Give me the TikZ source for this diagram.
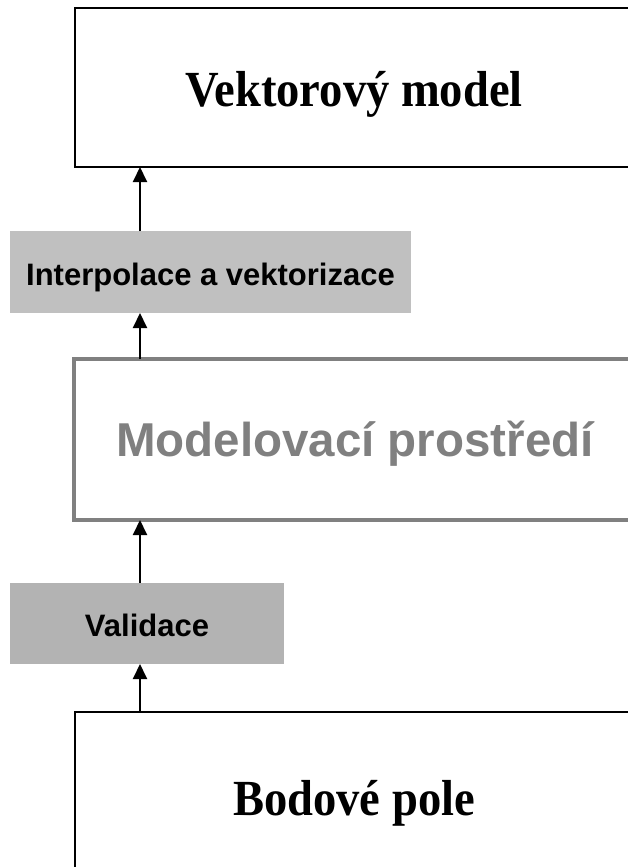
\documentclass[tikz,border=0pt]{standalone}
\usepackage{fontspec}
\setmainfont[FakeStretch=0.92]{Liberation Serif}
\setsansfont{Liberation Sans}
\usetikzlibrary{arrows.meta}
\definecolor{boxgrayA}{HTML}{C0C0C0}
\definecolor{boxgrayB}{HTML}{B3B3B3}
\definecolor{midgray}{HTML}{808080}
\begin{document}
\begin{tikzpicture}[x=1pt,y=-1pt,
  every node/.style={inner sep=0pt,outer sep=0pt},
  mainbox/.style={draw=black,line width=2pt,fill=white,minimum width=558pt,minimum height=159pt},
  envbox/.style={draw=midgray,line width=4pt,fill=white,minimum width=562pt,minimum height=161pt},
  procbox/.style={draw=none,minimum height=82pt},
  serifbig/.style={anchor=base,font=\rmfamily\bfseries\fontsize{50.6}{60}\selectfont},
  sansbig/.style={anchor=base,text=midgray,font=\sffamily\bfseries\fontsize{47.5}{56}\selectfont},
  sanssmall/.style={anchor=base,font=\sffamily\bfseries\fontsize{31}{37}\selectfont},
  arr/.style={line width=2pt,-{Triangle[width=14pt,length=15pt]}}
]
\useasboundingbox (0,0) rectangle (628,867);
\clip (0,0) rectangle (628,867);
\fill[white] (0,0) rectangle (628,867);
\coordinate (ax) at (140,0);
\node[mainbox] (vm) at (354,87.5) {};
\node[serifbig] (vmt) at (354,106.7) {Vektorový model};
\node[procbox,fill=boxgrayA,minimum width=401pt] (ip) at (210.5,272) {};
\node[sanssmall] (ipt) at (210.5,285) {Interpolace a vektorizace};
\node[envbox] (mp) at (355,439.5) {};
\node[sansbig] (mpt) at (355,456.7) {Modelovací prostředí};
\node[procbox,fill=boxgrayB,minimum width=274pt,minimum height=81pt] (va) at (147,623.5) {};
\node[sanssmall] (vat) at (147,636) {Validace};
\node[mainbox,minimum height=160pt] (bp) at (354,792) {};
\node[serifbig] (bpt) at (354,815) {Bodové pole};
\draw[arr] (ip.north -| ax) -- (vm.south -| ax);
\draw[arr] (mp.north -| ax) -- (ip.south -| ax);
\draw[arr] (va.north -| ax) -- (mp.south -| ax);
\draw[arr] (bp.north -| ax) -- (va.south -| ax);
\end{tikzpicture}
\end{document}
